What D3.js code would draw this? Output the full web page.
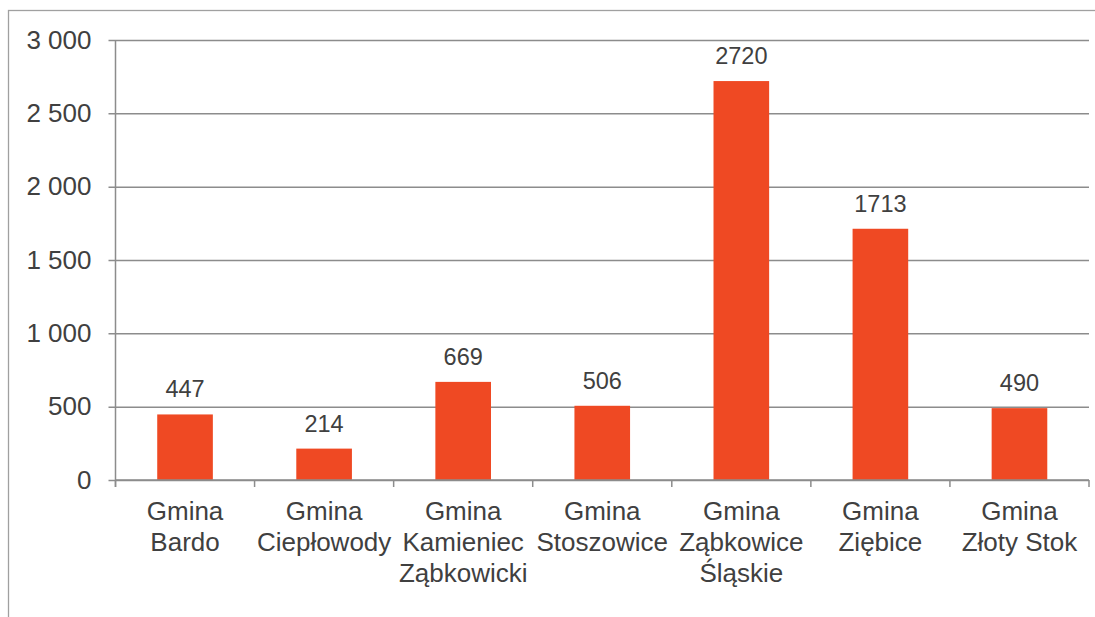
<!DOCTYPE html>
<html>
<head>
<meta charset="utf-8">
<script src="https://cdn.jsdelivr.net/npm/d3@7"></script>
<style>
  html, body { margin: 0; padding: 0; background: #fff; }
  svg text { font-family: "Liberation Sans", Arial, sans-serif; fill: #404040; }
</style>
</head>
<body>
<div id="chart"></div>
<script>
const categories = ['Gmina Bardo', 'Gmina Ciepłowody', 'Gmina Kamieniec Ząbkowicki', 'Gmina Stoszowice', 'Gmina Ząbkowice Śląskie', 'Gmina Ziębice', 'Gmina Złoty Stok'];
const tickLines = [
  ['Gmina', 'Bardo'],
  ['Gmina', 'Ciepłowody'],
  ['Gmina', 'Kamieniec', 'Ząbkowicki'],
  ['Gmina', 'Stoszowice'],
  ['Gmina', 'Ząbkowice', 'Śląskie'],
  ['Gmina', 'Ziębice'],
  ['Gmina', 'Złoty Stok']
];
const values = [447, 214, 669, 506, 2720, 1713, 490];
const yTicks = [0, 500, 1000, 1500, 2000, 2500, 3000];

const AREA_WIDTH = 1095;
const AREA_HEIGHT = 617;
const MARGIN = { TOP: 40, RIGHT: 6, BOTTOM: 137, LEFT: 115.5 };
const WIDTH = AREA_WIDTH - MARGIN.LEFT - MARGIN.RIGHT;
const HEIGHT = AREA_HEIGHT - MARGIN.TOP - MARGIN.BOTTOM;
const GRID = '#8c8c8c';

const root = d3.select('#chart')
  .append('svg')
  .attr('width', AREA_WIDTH)
  .attr('height', AREA_HEIGHT);

// outer chart frame
root.append('rect')
  .attr('x', 8.5).attr('y', 10.5)
  .attr('width', 1200).attr('height', 700)
  .attr('fill', 'none')
  .attr('stroke', '#a0a0a0')
  .attr('stroke-width', 1.3);

const svg = root.append('g')
  .attr('transform', `translate(${MARGIN.LEFT},${MARGIN.TOP})`);

const x = d3.scaleBand()
  .domain(categories)
  .range([0, WIDTH])
  .paddingInner(0.6)
  .paddingOuter(0.3);

const xTick = d3.scaleBand().domain(categories).range([0, WIDTH]);

const y = d3.scaleLinear()
  .domain([0, 3000])
  .range([HEIGHT, 0]);

const fmt = v => d3.format(',')(v).replace(/,/g, ' ');

// gridlines + y axis
const yAxis = svg.append('g')
  .call(d3.axisLeft(y).tickValues(yTicks).tickSize(-WIDTH).tickPadding(24).tickFormat(fmt));
yAxis.select('.domain').remove();
yAxis.selectAll('.tick line')
  .attr('x1', -7)
  .attr('stroke', GRID)
  .attr('stroke-width', 1.5);
yAxis.selectAll('.tick text')
  .style('font-size', '26px')
  .attr('fill', '#404040');

// left axis line
svg.append('line')
  .attr('x1', 0).attr('x2', 0)
  .attr('y1', 0).attr('y2', HEIGHT + 7)
  .attr('stroke', GRID).attr('stroke-width', 1.5);

// bottom axis tick marks
const bounds = categories.map(c => xTick(c)).concat([WIDTH]);
svg.selectAll('.xtick')
  .data(bounds)
  .enter()
  .append('line')
  .attr('class', 'xtick')
  .attr('x1', d => d).attr('x2', d => d)
  .attr('y1', HEIGHT).attr('y2', HEIGHT + 7)
  .attr('stroke', GRID).attr('stroke-width', 1.5);

// bars
svg.selectAll('rect.bar')
  .data(values)
  .enter()
  .append('rect')
  .attr('class', 'bar')
  .attr('x', (d, i) => x(categories[i]))
  .attr('y', d => y(d))
  .attr('width', x.bandwidth())
  .attr('height', d => HEIGHT - y(d))
  .attr('fill', '#ef4923');

// baseline drawn over bars
svg.append('line')
  .attr('x1', 0).attr('x2', WIDTH)
  .attr('y1', HEIGHT).attr('y2', HEIGHT)
  .attr('stroke', GRID).attr('stroke-width', 1.5);

// value labels
svg.selectAll('text.val')
  .data(values)
  .enter()
  .append('text')
  .attr('class', 'val')
  .attr('x', (d, i) => x(categories[i]) + x.bandwidth() / 2)
  .attr('y', d => y(d) - 17)
  .attr('text-anchor', 'middle')
  .style('font-size', '23.5px')
  .text(d => d);

// category labels
const lab = svg.selectAll('text.cat')
  .data(categories)
  .enter()
  .append('text')
  .attr('class', 'cat')
  .attr('text-anchor', 'middle')
  .attr('transform', d => `translate(${xTick(d) + xTick.bandwidth() / 2},${HEIGHT + 40})`)
  .style('font-size', '26px');
lab.selectAll('tspan')
  .data((d, i) => tickLines[i])
  .enter()
  .append('tspan')
  .attr('x', 0)
  .attr('y', (d, i) => i * 31)
  .text(d => d);
</script>
</body>
</html>
